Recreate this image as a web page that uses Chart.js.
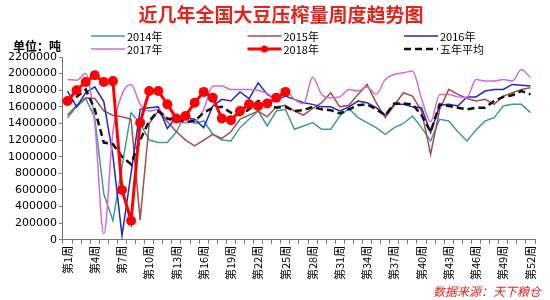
<!DOCTYPE html>
<html>
<head>
<meta charset="utf-8">
<script src="https://cdn.jsdelivr.net/npm/chart.js@4.4.0/dist/chart.umd.min.js"></script>
<style>
  html, body { margin: 0; padding: 0; background: #fff; }
</style>
</head>
<body>
<canvas id="chart" width="550" height="300"></canvas>
<script>
// weekly soybean crush, tonnes
const weeks = ['第1周','第2周','第3周','第4周','第5周','第6周','第7周','第8周','第9周','第10周',
  '第11周','第12周','第13周','第14周','第15周','第16周','第17周','第18周','第19周','第20周',
  '第21周','第22周','第23周','第24周','第25周','第26周','第27周','第28周','第29周','第30周',
  '第31周','第32周','第33周','第34周','第35周','第36周','第37周','第38周','第39周','第40周',
  '第41周','第42周','第43周','第44周','第45周','第46周','第47周','第48周','第49周','第50周',
  '第51周','第52周'];

const y2014 = [1470000,1600000,1700000,1470000,550000,230000,880000,1530000,1400000,1200000,
  1170000,1170000,1300000,1520000,1400000,1430000,1270000,1200000,1190000,1350000,
  1450000,1550000,1370000,1550000,1570000,1330000,1370000,1410000,1330000,1330000,
  1490000,1580000,1470000,1410000,1350000,1270000,1350000,1400000,1490000,1350000,
  1190000,1450000,1430000,1300000,1190000,1320000,1430000,1470000,1610000,1630000,
  1630000,1530000];

const y2015 = [1500000,1620000,1710000,1700000,1550000,1500000,1480000,1450000,240000,1400000,
  1550000,1420000,1300000,1200000,1130000,1200000,1270000,1220000,1300000,1450000,
  1500000,1550000,1480000,1600000,1620000,1550000,1500000,1580000,1650000,1770000,
  1600000,1620000,1750000,1870000,1650000,1470000,1620000,1770000,1730000,1550000,
  1030000,1570000,1810000,1750000,1700000,1670000,1690000,1630000,1730000,1770000,
  1810000,1830000];

const y2016 = [1790000,1600000,1770000,1840000,1660000,1010000,50000,800000,1570000,1590000,
  1600000,1340000,1480000,1470000,1450000,1350000,1610000,1690000,1670000,1780000,
  1700000,1890000,1750000,1690000,1730000,1690000,1650000,1630000,1600000,1600000,
  1550000,1600000,1670000,1650000,1590000,1500000,1630000,1630000,1600000,1590000,
  1290000,1620000,1630000,1610000,1720000,1720000,1790000,1810000,1810000,1870000,
  1860000,1850000];

const y2017 = [1930000,1920000,2000000,1400000,70000,1300000,1750000,1870000,1630000,1550000,
  1570000,1450000,1420000,1410000,1420000,1570000,1850000,1850000,1810000,1810000,
  1810000,1800000,1760000,1700000,1800000,1690000,1640000,1960000,1750000,1710000,
  1720000,1810000,1790000,1840000,1750000,1930000,1990000,2010000,2030000,1700000,
  1420000,1750000,1750000,1720000,1710000,1930000,1910000,1910000,1930000,1910000,
  2050000,1950000];

const y2018 = [1670000,1800000,1900000,1980000,1900000,1910000,600000,230000,1410000,1790000,
  1790000,1630000,1460000,1490000,1650000,1780000,1710000,1460000,1440000,1550000,
  1630000,1610000,1640000,1710000,1780000];

const avg5 = [1630000,1720000,1810000,1570000,1170000,1150000,1000000,910000,1200000,1430000,
  1550000,1460000,1450000,1420000,1430000,1530000,1590000,1600000,1530000,1500000,
  1570000,1670000,1630000,1590000,1600000,1550000,1560000,1600000,1570000,1560000,
  1520000,1570000,1620000,1630000,1570000,1500000,1640000,1640000,1630000,1500000,
  1300000,1630000,1610000,1590000,1570000,1590000,1590000,1670000,1720000,1740000,
  1790000,1750000];

const CJK = '"Noto Sans CJK SC", "DejaVu Sans", sans-serif';

// title, unit, legend and source are painted on the canvas after the chart
const extras = {
  id: 'extras',
  beforeDraw(chart) {
    const ctx = chart.ctx;
    ctx.save();
    ctx.fillStyle = '#fff';
    ctx.fillRect(0, 0, chart.width, chart.height);
    ctx.restore();
  },
  afterDraw(chart) {
    const ctx = chart.ctx;
    ctx.save();
    ctx.textBaseline = 'middle';

    ctx.fillStyle = '#e3241d';
    ctx.font = 'bold 19px ' + CJK;
    ctx.textAlign = 'center';
    ctx.fillText('近几年全国大豆压榨量周度趋势图', 281, 15);

    ctx.fillStyle = '#000';
    ctx.font = 'bold 12px ' + CJK;
    ctx.textAlign = 'left';
    ctx.fillText('单位：吨', 13, 46);

    ctx.font = '11px ' + CJK;
    chart.data.datasets.forEach((ds, i) => {
      const x = 91 + (i % 3) * 156.5;
      const y = 36 + Math.floor(i / 3) * 13;
      ctx.save();
      ctx.strokeStyle = ds.borderColor;
      ctx.lineWidth = ds.borderWidth;
      ctx.setLineDash(ds.borderDash || []);
      ctx.beginPath();
      ctx.moveTo(x, y);
      ctx.lineTo(x + 34, y);
      ctx.stroke();
      if (ds.pointRadius > 0) {
        ctx.fillStyle = ds.pointBackgroundColor;
        ctx.beginPath();
        ctx.arc(x + 17, y, 3.5, 0, Math.PI * 2);
        ctx.fill();
      }
      ctx.restore();
      ctx.fillStyle = '#000';
      ctx.fillText(ds.label, x + 36, y + 0.5);
    });

    ctx.fillStyle = '#e3241d';
    ctx.font = 'italic 12px ' + CJK;
    ctx.textAlign = 'right';
    ctx.fillText('数据来源：天下粮仓', 541, 291);
    ctx.restore();
  }
};

const line = (label, data, color, extra) => Object.assign({
  label, data,
  borderColor: color,
  backgroundColor: color,
  borderWidth: 1.5,
  pointRadius: 0,
  pointHoverRadius: 0,
  fill: false,
  tension: 0
}, extra);

new Chart(document.getElementById('chart'), {
  type: 'line',
  data: {
    labels: weeks,
    datasets: [
      line('2014年', y2014, '#3f9a9c', { order: 5 }),
      line('2015年', y2015, '#a14f4c', { order: 4 }),
      line('2016年', y2016, '#1c2bc4', { order: 3 }),
      line('2017年', y2017, '#d46ad2', { order: 2, cubicInterpolationMode: 'monotone' }),
      line('2018年', y2018, '#ff0000', {
        order: 0, borderWidth: 3, pointRadius: 5,
        pointBackgroundColor: '#ff0000', pointBorderColor: '#ff0000', pointBorderWidth: 0
      }),
      line('五年平均', avg5, '#111111', { order: 1, borderWidth: 2.5, borderDash: [7, 4] })
    ]
  },
  options: {
    responsive: false,
    animation: false,
    layout: { padding: { top: 57, left: 6, right: 15, bottom: 18 } },
    plugins: {
      legend: { display: false },
      title: { display: false },
      tooltip: { enabled: false }
    },
    scales: {
      x: {
        offset: true,
        grid: { offset: true, drawOnChartArea: false, drawTicks: true, tickLength: 4, color: '#777' },
        border: { display: true, color: '#777' },
        ticks: {
          autoSkip: false,
          maxRotation: 90,
          minRotation: 90,
          padding: 2,
          color: '#000',
          font: { family: CJK, size: 11 },
          callback(value, index) {
            return index % 3 === 0 ? this.getLabelForValue(value) : '';
          }
        }
      },
      y: {
        min: 0,
        max: 2200000,
        grid: { drawOnChartArea: false, drawTicks: true, tickLength: 4, color: '#777' },
        border: { display: true, color: '#777' },
        ticks: {
          autoSkip: false,
          stepSize: 200000,
          padding: 2,
          color: '#000',
          font: { family: '"DejaVu Sans", sans-serif', size: 11 },
          callback: v => String(v)
        }
      }
    }
  },
  plugins: [extras]
});
</script>
</body>
</html>
